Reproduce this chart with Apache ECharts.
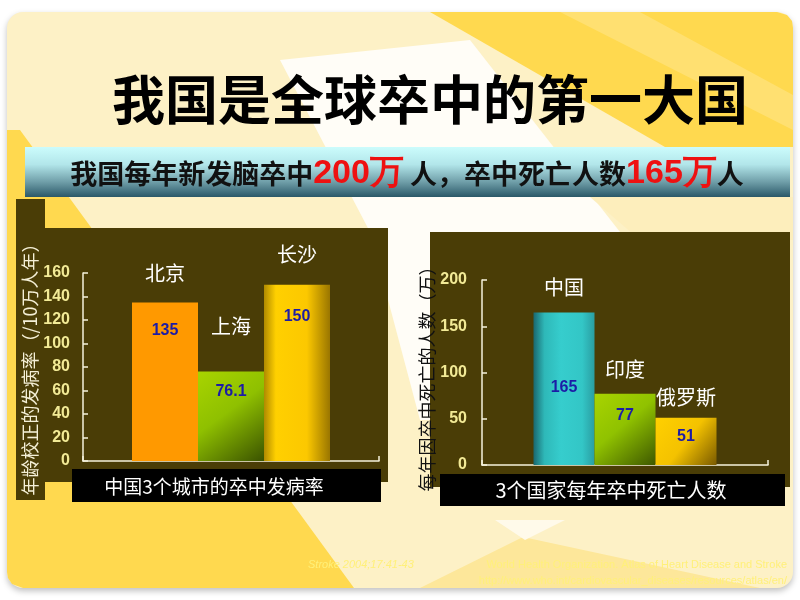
<!DOCTYPE html>
<html>
<head>
<meta charset="utf-8">
<script src="https://cdn.jsdelivr.net/npm/echarts@6/dist/echarts.min.js"></script>
<style>html,body{margin:0;padding:0;background:#fff;}#main{width:800px;height:600px;}</style>
</head>
<body>
<div id="main"></div>
<script>
// ---- data ----
const cityNames = ['北京', '上海', '长沙'];
const cityRates = [135, 76.1, 150];
const cityTickMax = 160;
const cityTickStep = 20;

const countryNames = ['中国', '印度', '俄罗斯'];
const countryDeaths = [165, 77, 51];
const countryTickMax = 200;
const countryTickStep = 50;

const slideTitle = '我国是全球卒中的第一大国';
const leftAxisName = '年龄校正的发病率（/10万人年）';
const rightAxisName = '每年因卒中死亡的人数（万）';
const leftCaption = '中国3个城市的卒中发病率';
const rightCaption = '3个国家每年卒中死亡人数';

// ---- styles ----
const CJK = "'Noto Sans CJK SC', 'Noto Sans', sans-serif";
const panelColor = '#4a3d06';
const axisColor = '#f6f2dc';
const tickColor = '#f2ea96';
const valueColor = '#1c1ca6';

function grad(stops, x2, y2) {
  return new echarts.graphic.LinearGradient(0, 0, x2, y2, stops.map(c => ({offset: c[0], color: c[1]})));
}
const leftColors = [
  '#ff9900',
  grad([[0, '#a8d400'], [0.45, '#8fc000'], [1, '#3a5200']], 1, 1),
  grad([[0, '#b08a00'], [0.18, '#ffd000'], [0.65, '#fcc800'], [1, '#9a7600']], 1, 0)
];
const rightColors = [
  grad([[0, '#1a6870'], [0.18, '#2eb8b8'], [0.45, '#36cdcd'], [0.8, '#33c6c6'], [1, '#2a9ea2']], 1, 0),
  grad([[0, '#a8d400'], [0.45, '#90c200'], [1, '#3e5800']], 1, 1),
  grad([[0, '#ffd000'], [0.5, '#f4c200'], [1, '#7a5a00']], 1, 1)
];
// vertical layout of the two label lines around each bar (name above, value inside)
const leftLabelLayout = [{off: -41, gap: 33}, {off: -57, gap: 41}, {off: -42, gap: 38}];
const rightLabelLayout = [{off: -37, gap: 76}, {off: -36, gap: 22}, {off: -32, gap: 15}];

function makeLabel(layout) {
  return {
    show: true,
    position: 'insideTop',
    distance: 0,
    offset: [0, layout.off],
    formatter: p => '{n|' + p.seriesName + '}\n{g|}\n{v|' + p.value + '}',
    rich: {
      n: {color: '#ffffff', fontSize: 20, fontFamily: CJK, lineHeight: 24},
      g: {lineHeight: layout.gap, height: layout.gap},
      v: {color: valueColor, fontSize: 16, fontWeight: 'bold', fontFamily: 'Liberation Sans, Arial, sans-serif', lineHeight: 24}
    }
  };
}

const series = [];
cityNames.forEach((name, i) => {
  series.push({
    type: 'bar', name: name, xAxisIndex: 0, yAxisIndex: 0,
    data: [cityRates[i]], barWidth: 66, barGap: '0%',
    itemStyle: {color: leftColors[i]},
    label: makeLabel(leftLabelLayout[i])
  });
});
countryNames.forEach((name, i) => {
  series.push({
    type: 'bar', name: name, xAxisIndex: 1, yAxisIndex: 1,
    data: [countryDeaths[i]], barWidth: 61, barGap: '0%',
    itemStyle: {color: rightColors[i]},
    label: makeLabel(rightLabelLayout[i])
  });
});

const axisLineStyle = {lineStyle: {color: axisColor, width: 1.5}};
function xAxis(gi) {
  return {
    type: 'category', gridIndex: gi, data: [''],
    axisLine: axisLineStyle,
    axisTick: {show: true, inside: true, length: 5, lineStyle: {color: axisColor, width: 1.5}},
    axisLabel: {show: false}, splitLine: {show: false}
  };
}
function yAxis(gi, max, step, name, nameColor, nameGap, margin, namePad, nameSize) {
  return {
    type: 'value', gridIndex: gi, min: 0, max: max, interval: step,
    name: name, nameLocation: 'middle', nameRotate: 90, nameGap: nameGap,
    nameTextStyle: {color: nameColor, fontSize: nameSize, fontFamily: CJK, padding: namePad},
    axisLine: {show: true, lineStyle: {color: axisColor, width: 1.5}},
    axisTick: {show: true, inside: true, length: 5, lineStyle: {color: axisColor, width: 1.5}},
    axisLabel: {color: tickColor, fontSize: 16, fontWeight: 'bold', fontFamily: 'Liberation Sans, Arial, sans-serif', margin: margin},
    splitLine: {show: false}
  };
}

const NARROW = "'Liberation Sans Narrow', 'Liberation Sans', sans-serif";
const chart = echarts.init(document.getElementById('main'), null, {renderer: 'canvas'});
chart.setOption({
  backgroundColor: '#ffffff',
  animation: false,
  graphic: [
    // slide background
    {type: 'rect', z: -100, shape: {x: 7, y: 12, width: 786, height: 576, r: 16},
      style: {fill: '#fdf1c6', shadowBlur: 6, shadowOffsetY: 3, shadowColor: 'rgba(0,0,0,0.25)'}},
    {type: 'polygon', z: -99, shape: {points: [[280, 60], [470, 40], [620, 232], [640, 420], [420, 420], [370, 232]]},
      style: {fill: '#fffdf7'}},
    {type: 'polygon', z: -99, shape: {points: [[590, 197], [793, 197], [793, 240], [640, 240]]},
      style: {fill: '#fdeebc'}},
    {type: 'polygon', z: -98, shape: {points: [[430, 12], [777, 12], [787, 15], [792, 21], [793, 28], [793, 147], [665, 147]]},
      style: {fill: '#ffd94f'}},
    {type: 'polygon', z: -97, shape: {points: [[560, 12], [640, 12], [793, 95], [793, 130]]},
      style: {fill: '#ffe071'}},
    {type: 'polygon', z: -99, shape: {points: [[7, 130], [20, 130], [354, 588], [23, 588], [12, 584], [8, 578], [7, 572]]},
      style: {fill: '#ffd94f'}},
    {type: 'polygon', z: -99, shape: {points: [[420, 588], [523, 537], [760, 588]]},
      style: {fill: '#fde79a'}},
    {type: 'polygon', z: -99, shape: {points: [[495, 520], [565, 520], [525, 540]]},
      style: {fill: '#fffaea'}},
    // title
    {type: 'text', z: 10, style: {text: slideTitle, x: 430, y: 100, align: 'center', verticalAlign: 'middle',
      fontSize: 53, fontWeight: 'bold', fontFamily: CJK, fill: '#000000'}},
    // banner
    {type: 'rect', z: -50, shape: {x: 25, y: 147, width: 765, height: 50},
      style: {fill: grad([[0, '#ccfcfc'], [0.35, '#b2e6ea'], [0.7, '#6f9ea8'], [1, '#2a5868']], 0, 1)}},
    {type: 'text', z: 10, style: {
      text: '{a|我国每年新发脑卒中}{r|200万}{a| 人，卒中死亡人数}{r|165万}{a|人}',
      x: 407, y: 174, align: 'center', verticalAlign: 'middle',
      rich: {
        a: {fontSize: 27, fontWeight: 'bold', fontFamily: CJK, fill: '#111111', color: '#111111'},
        r: {fontSize: 34, fontWeight: 'bold', fontFamily: NARROW, fill: '#ee1111', color: '#ee1111'}
      }}},
    // panels
    {type: 'rect', z: -50, shape: {x: 16, y: 199, width: 29, height: 301}, style: {fill: panelColor}},
    {type: 'rect', z: -50, shape: {x: 45, y: 228, width: 343, height: 254}, style: {fill: panelColor}},
    {type: 'rect', z: -50, shape: {x: 430, y: 232, width: 360, height: 255}, style: {fill: panelColor}},
    // captions
    {type: 'rect', z: 5, shape: {x: 72, y: 469, width: 309, height: 33}, style: {fill: '#000000'}},
    {type: 'text', z: 6, style: {text: leftCaption, x: 214, y: 487, align: 'center', verticalAlign: 'middle',
      fontSize: 19, fontFamily: CJK, fill: '#ffffff'}},
    {type: 'rect', z: 5, shape: {x: 440, y: 474, width: 345, height: 32}, style: {fill: '#000000'}},
    {type: 'text', z: 6, style: {text: rightCaption, x: 611, y: 490, align: 'center', verticalAlign: 'middle',
      fontSize: 20, fontFamily: CJK, fill: '#ffffff'}},
    // footer references
    {type: 'text', z: 6, style: {text: 'Stroke 2004;17:41-43', x: 308, y: 565, align: 'left', verticalAlign: 'middle',
      fontSize: 11, fontStyle: 'italic', fontFamily: NARROW, fill: '#fff07a'}},
    {type: 'text', z: 6, style: {text: 'World Health Organization. Atlas of Heart Disease and Stroke', x: 787, y: 565, align: 'right', verticalAlign: 'middle',
      fontSize: 11, fontFamily: NARROW, fill: '#fff07a'}},
    {type: 'text', z: 6, style: {text: 'http://www.who.int/cardiovascular_diseases/resources/atlas/en/', x: 787, y: 581, align: 'right', verticalAlign: 'middle',
      fontSize: 11, fontFamily: NARROW, fill: '#fff07a'}}
  ],
  grid: [
    {left: 83, right: 421, top: 273, bottom: 139, containLabel: false},
    {left: 482, right: 32, top: 280, bottom: 135, containLabel: false}
  ],
  xAxis: [xAxis(0), xAxis(1)],
  yAxis: [
    yAxis(0, cityTickMax, cityTickStep, leftAxisName, '#f4efd6', 42, 13, [0, 0, 0, 4], 18),
    yAxis(1, countryTickMax, countryTickStep, rightAxisName, '#111111', 45, 15, [0, 4, 0, 0], 18)
  ],
  series: series
});
</script>
</body>
</html>
